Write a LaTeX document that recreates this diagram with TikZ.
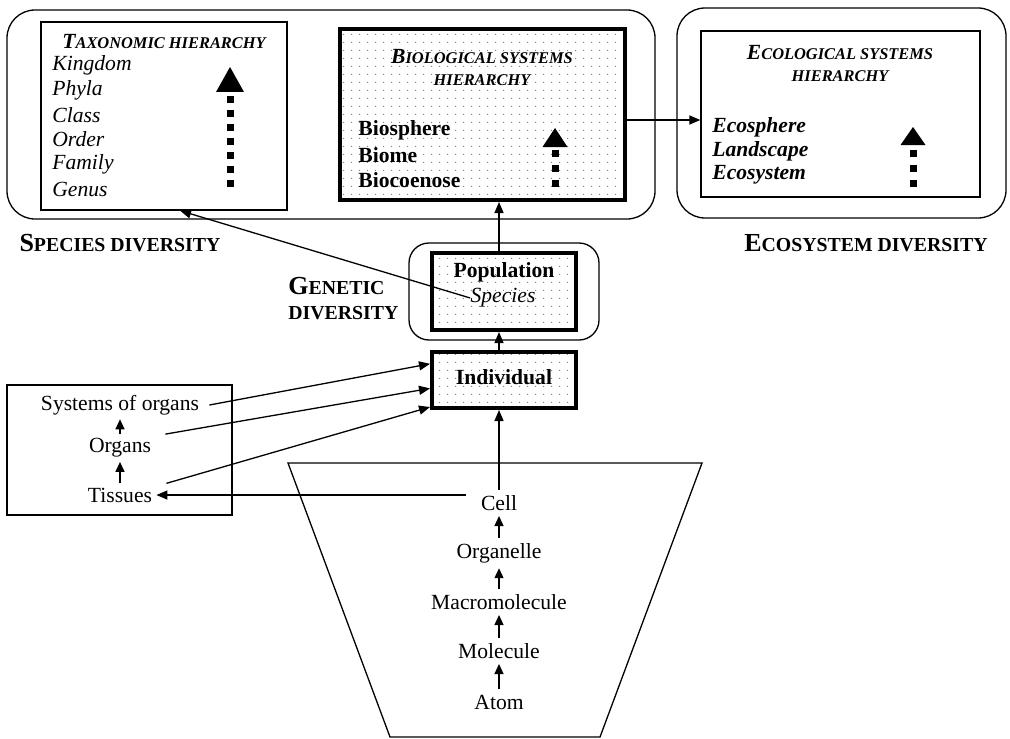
\documentclass[tikz,border=0pt]{standalone}
\usepackage{fontspec}
\setmainfont{Liberation Serif}
\usetikzlibrary{arrows.meta,patterns.meta,fit,calc}
\newcommand{\ttlsc}[2]{{\fontsize{10.8}{13}\selectfont #1}{\fontsize{8.2}{10}\selectfont #2}}
\newcommand{\divsc}[2]{{\fontsize{13}{15}\selectfont #1}{\fontsize{9.9}{11}\selectfont #2}}
\begin{document}
\begin{tikzpicture}[x=0.5pt,y=-0.5pt,
  frame/.style={draw, line width=0.65pt, inner sep=0pt},
  roundframe/.style={draw, line width=0.65pt, inner sep=0pt, rounded corners=14pt},
  popframe/.style={draw, line width=0.65pt, inner sep=0pt, rounded corners=10pt},
  thickframe/.style={draw, line width=2pt, inner sep=0pt,
     pattern={Dots[distance=4pt,radius=0.35pt]}, pattern color=black!55},
  arr/.style={line width=0.65pt, -{Triangle[length=5.5pt,width=4.5pt]}},
  smallarr/.style={line width=0.65pt, -{Triangle[length=5pt,width=4.5pt]}},
  txt/.style={font=\fontsize{10.8}{13}\selectfont, inner sep=0pt},
  lvl/.style={txt, inner sep=2.5pt},
  dots/.style={line width=3.5pt},
]
\useasboundingbox (0,0) rectangle (1010,738);

% ---------- frames ----------
\node[roundframe, fit={(7,10) (655,219)}] (groupL) {};
\node[roundframe, fit={(677,8) (1006,218)}] (groupR) {};
\node[frame, fit={(41,22) (287,210)}] (tax) {};
\node[thickframe, fit={(340,29) (625,200)}] (bio) {};
\node[frame, fit={(701,31) (980,197)}] (eco) {};
\node[popframe, fit={(409,243) (599,340)}] (popgroup) {};
\node[thickframe, fit={(432,253) (576,330)}] (pop) {};
\node[thickframe, fit={(432,352) (576,408)}] (ind) {};
\node[frame, fit={(7,385) (232,515)}] (organbox) {};
\draw[line width=0.65pt] (288,463) -- (702,463) -- (600,737) -- (390,737) -- cycle;

% ---------- taxonomic hierarchy ----------
\node[txt, font=\bfseries\itshape] at (164,42) {\ttlsc{T}{AXONOMIC HIERARCHY}};
\foreach \t/\y in {Kingdom/65, Phyla/90, Class/115, Order/139, Family/164, Genus/189}
  \node[txt, font=\fontsize{10.8}{13}\selectfont\itshape, anchor=west] at (52,\y) {\t};
\fill (216,92) -- (244,92) -- (230,67) -- cycle;
\draw[dots, dash pattern=on 3.5pt off 3.5pt] (230,96) -- (230,187);

% ---------- biological systems hierarchy ----------
\node[txt, font=\bfseries\itshape] at (482,57) {\ttlsc{B}{IOLOGICAL SYSTEMS}};
\node[txt, font=\bfseries\itshape] at (482,80) {\ttlsc{}{HIERARCHY}};
\foreach \t/\y in {Biosphere/130, Biome/155, Biocoenose/180}
  \node[txt, font=\fontsize{10.8}{13}\selectfont\bfseries, anchor=west] at (358,\y) {\t};
\fill (542.5,147) -- (567.5,147) -- (555,128) -- cycle;
\draw[dots, dash pattern=on 3.5pt off 4pt] (555,149.5) -- (555,186.5);

% ---------- ecological systems hierarchy ----------
\node[txt, font=\bfseries\itshape] at (840,53) {\ttlsc{E}{COLOGICAL SYSTEMS}};
\node[txt, font=\bfseries\itshape] at (840,76) {\ttlsc{}{HIERARCHY}};
\foreach \t/\y in {Ecosphere/127, Landscape/151, Ecosystem/175}
  \node[txt, font=\fontsize{10.8}{13}\selectfont\bfseries\itshape, anchor=west] at (712,\y) {\t};
\fill (900.5,145) -- (925.5,145) -- (913,127) -- cycle;
\draw[dots, dash pattern=on 3.5pt off 4pt] (913,149.5) -- (913,186.5);

% ---------- diversity labels ----------
\node[txt, font=\bfseries] (spdiv) at (120,243) {\divsc{S}{PECIES DIVERSITY}};
\node[txt, font=\bfseries] (ecodiv) at (866,243) {\divsc{E}{COSYSTEM DIVERSITY}};
\node[txt, font=\bfseries, anchor=west] (gen1) at (288,286) {\divsc{G}{ENETIC}};
\node[txt, font=\bfseries, anchor=west] (gen2) at (288,313) {\divsc{}{DIVERSITY}};

% ---------- population / individual ----------
\node[txt, font=\fontsize{10.8}{13}\selectfont\bfseries] (poptxt) at (504,272) {Population};
\node[txt, font=\fontsize{10.8}{13}\selectfont\itshape] (species) at (503,298) {Species};
\node[txt, font=\fontsize{10.8}{13}\selectfont\bfseries] (indtxt) at (504,377) {Individual};

% ---------- organ box ----------
\node[lvl, inner sep=2pt] (soo) at (120,405) {Systems of organs};
\node[lvl, inner sep=2pt] (organs) at (120,448) {Organs};
\node[lvl, inner sep=2pt] (tissues) at (120,495) {Tissues};
\draw[smallarr] (organs.north) -- (soo.south);
\draw[smallarr] (tissues.north) -- (organs.south);

% ---------- trapezoid ----------
\node[lvl] (cell) at (499,503) {Cell};
\node[lvl] (organelle) at (499,553) {Organelle};
\node[lvl] (macro) at (499,602) {Macromolecule};
\node[lvl] (molecule) at (499,651) {Molecule};
\node[lvl] (atom) at (499,702) {Atom};
\draw[smallarr] (organelle.north) -- (cell.south);
\draw[smallarr] (macro.north) -- (organelle.south);
\draw[smallarr] (molecule.north) -- (macro.south);
\draw[smallarr] (atom.north) -- (molecule.south);

% ---------- connectors ----------
\coordinate (arrowy) at (0,120);
\draw[arr] (cell.north) -- (ind.south -| cell.north);
\draw[arr] (ind.north -| cell.north) -- (pop.south -| cell.north);
\draw[arr] (pop.north -| cell.north) -- (bio.south -| cell.north);
\draw[arr] (bio.east |- arrowy) -- (eco.west |- arrowy);
\draw[arr] (species.west) -- ($(tax.south west)!0.565!(tax.south east)$);
\draw[arr] ([xshift=3pt]soo.east) -- ($(ind.north west)!0.23!(ind.south west)$);
\draw[arr] ([xshift=5pt]organs.north east) -- ($(ind.north west)!0.64!(ind.south west)$);
\draw[arr] ([xshift=5pt]tissues.north east) -- ($(ind.north west)!0.95!(ind.south west)$);
\draw[arr] ([xshift=-5pt]cell.west |- tissues.east) -- (tissues.east);
\end{tikzpicture}
\end{document}
